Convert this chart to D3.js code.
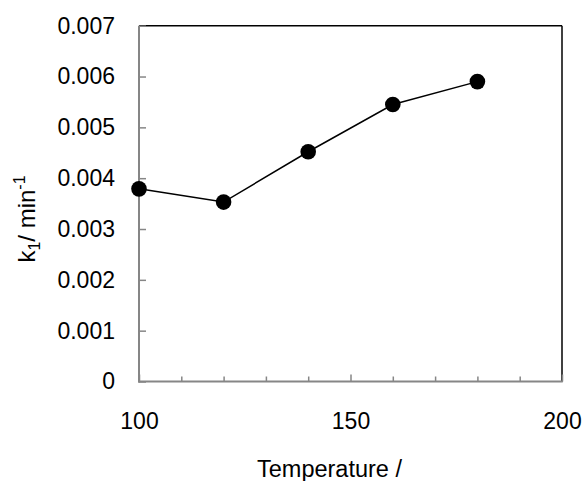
<!DOCTYPE html>
<html>
<head>
<meta charset="utf-8">
<script src="https://cdn.jsdelivr.net/npm/d3@7"></script>
<style>
  body { margin: 0; background: #fff; }
  text { font-family: "Liberation Sans", Arial, sans-serif; fill: #000; }
</style>
</head>
<body>
<div id="graphContainer"></div>
<script>
var temps = [100, 120, 140, 160, 180]
var k1 = [0.00379, 0.00353, 0.00452, 0.00545, 0.0059]
var yTicks = [0, 0.001, 0.002, 0.003, 0.004, 0.005, 0.006, 0.007]
var xTicks = [100, 150, 200]
var xMinorTicks = [110, 120, 130, 140, 160, 170, 180, 190]

var W = 583, H = 481
var margin = {top: 25.7, right: 21, bottom: 99.5, left: 139},
width = W - margin.left - margin.right,
height = H - margin.top - margin.bottom;

var svg = d3.select("#graphContainer").append("svg")
  .attr("width", W)
  .attr("height", H)
  .append("g")
    .attr("transform", "translate(" + margin.left + "," + margin.top + ")");

var x = d3.scaleLinear().range([0, width]).domain([100, 200])
var y = d3.scaleLinear().range([height, 0]).domain([0, 0.007])

// frame: top and right black, left and bottom grey
svg.append("line")
  .attr("x1", 0).attr("x2", width).attr("y1", 0).attr("y2", 0)
  .style("stroke", "#000").style("stroke-width", 1.5)
svg.append("line")
  .attr("x1", width).attr("x2", width).attr("y1", 0).attr("y2", height)
  .style("stroke", "#000").style("stroke-width", 1.5)

var yAxis = svg.append("g")
  .attr("class", "y axis")
  .call(d3.axisLeft(y).tickValues(yTicks).tickSize(-7).tickPadding(24)
    .tickFormat(function(d){ return d == 0 ? "0" : d3.format(".3f")(d) }))
yAxis.select(".domain").remove()
yAxis.selectAll("line").style("stroke", "#868686").style("stroke-width", 1.5)
yAxis.selectAll("text").style("font-size", "23px").attr("font-family", null)

var xAxis = svg.append("g")
  .attr("class", "x axis")
  .attr("transform", "translate(0," + height + ")")
  .call(d3.axisBottom(x).tickValues(xTicks).tickSize(-7).tickFormat(d3.format("d")))
xAxis.select(".domain").remove()
xAxis.selectAll("line").style("stroke", "#868686").style("stroke-width", 1.5)
xAxis.selectAll("text").style("font-size", "23px").attr("font-family", null)
  .attr("y", 47.5).attr("dy", 0)

var xMinor = svg.append("g")
  .attr("transform", "translate(0," + height + ")")
  .call(d3.axisBottom(x).tickValues(xMinorTicks).tickSize(-5).tickFormat(""))
xMinor.select(".domain").remove()
xMinor.selectAll("line").style("stroke", "#868686").style("stroke-width", 1.5)

svg.append("line")
  .attr("x1", 0).attr("x2", 0).attr("y1", 0).attr("y2", height + 1)
  .style("stroke", "#868686").style("stroke-width", 2)
svg.append("line")
  .attr("x1", -1).attr("x2", width + 0.75).attr("y1", height).attr("y2", height)
  .style("stroke", "#868686").style("stroke-width", 2)

var pts = temps.map(function(t, i){ return [t, k1[i]] })

svg.append("path")
  .datum(pts)
  .attr("d", d3.line().x(function(d){ return x(d[0]) }).y(function(d){ return y(d[1]) }))
  .style("fill", "none").style("stroke", "#000").style("stroke-width", 1.5)

svg.selectAll(".dot")
  .data(pts)
  .enter().append("circle")
  .attr("class", "dot")
  .attr("cx", function(d){ return x(d[0]) })
  .attr("cy", function(d){ return y(d[1]) })
  .attr("r", 7.8)
  .style("fill", "#000")

// axis titles
var yLabel = svg.append("text")
  .attr("transform", "translate(" + (35 - margin.left) + "," + (219 - margin.top) + ") rotate(-90)")
  .style("text-anchor", "middle")
  .style("font-size", "24px")
yLabel.append("tspan").text("k")
yLabel.append("tspan").attr("dy", 5).style("font-size", "16px").text("1")
yLabel.append("tspan").attr("dy", -5).text("/ min")
yLabel.append("tspan").attr("dy", -10).style("font-size", "16px").text("-1")

svg.append("text")
  .attr("x", 257 - margin.left)
  .attr("y", 477.5 - margin.top)
  .style("font-size", "23.5px")
  .text("Temperature /")
</script>
</body>
</html>
